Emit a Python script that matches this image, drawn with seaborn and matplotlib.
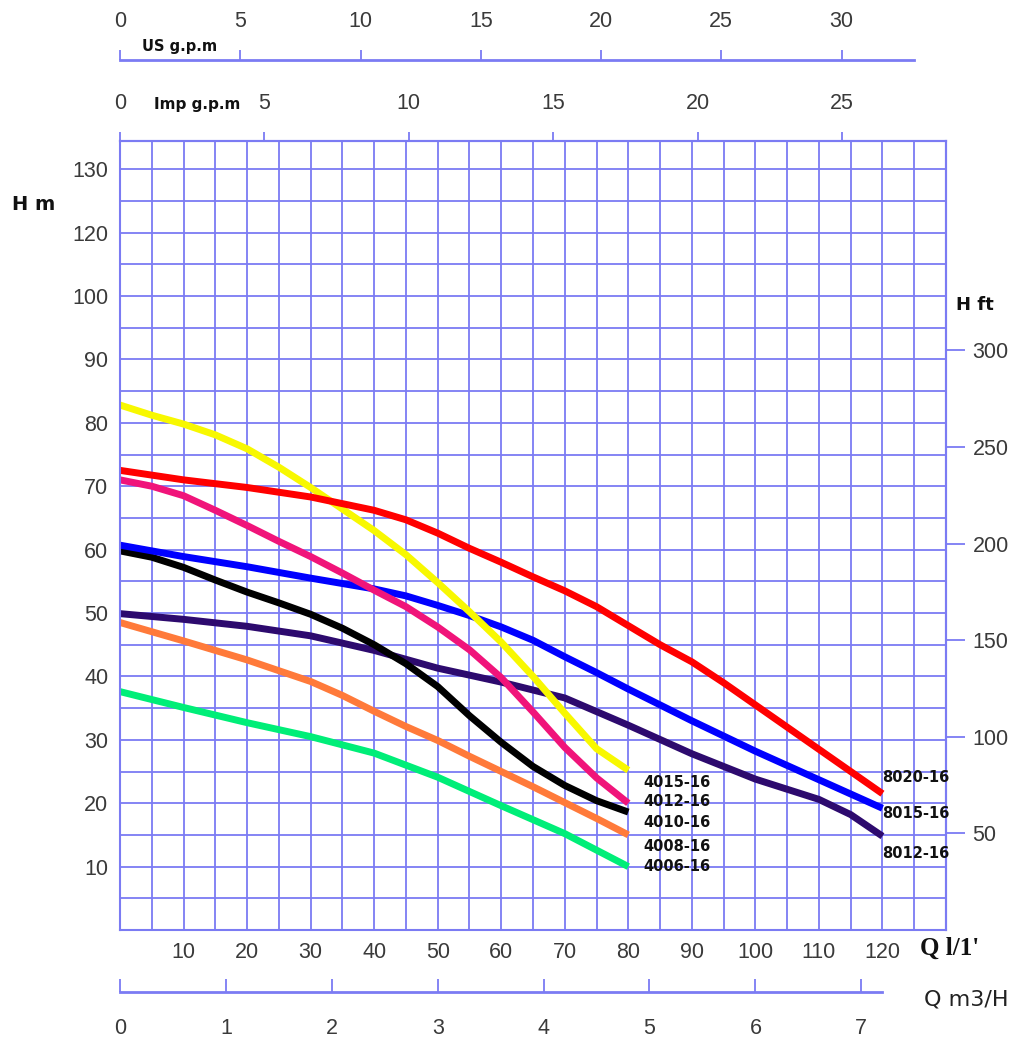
import numpy as np
import pandas as pd
import matplotlib
matplotlib.use("Agg")
import matplotlib.pyplot as plt
import seaborn as sns
from matplotlib.ticker import FixedLocator, FixedFormatter, MultipleLocator

sns.set_theme(style="white")
plt.rcParams["font.family"] = ["Liberation Sans", "DejaVu Sans"]

# ---------------- data (Q in l/min, H in m) ----------------
q_4015 = [0, 5, 10, 15, 20, 25, 30, 35, 40, 45, 50, 55, 60, 65, 70, 75, 80]
h_4015 = [82.8, 81.2, 79.8, 78.1, 75.9, 73.0, 69.8, 66.4, 63.0, 59.2, 54.8, 50.2, 45.4, 40.0, 34.2, 28.6, 25.2]

q_4012 = [0, 5, 10, 15, 20, 25, 30, 35, 40, 45, 50, 55, 60, 65, 70, 75, 80]
h_4012 = [71.0, 70.0, 68.5, 66.2, 63.8, 61.3, 58.9, 56.3, 53.6, 51.0, 47.8, 44.2, 39.8, 34.4, 28.8, 24.0, 20.0]

q_4010 = [0, 5, 10, 15, 20, 25, 30, 35, 40, 45, 50, 55, 60, 65, 70, 75, 80]
h_4010 = [59.8, 58.8, 57.2, 55.2, 53.3, 51.6, 49.8, 47.6, 45.0, 42.0, 38.4, 33.8, 29.6, 25.8, 22.8, 20.4, 18.6]

q_4008 = [0, 10, 20, 30, 35, 40, 45, 50, 55, 60, 65, 70, 75, 80]
h_4008 = [48.5, 45.6, 42.6, 39.2, 37.0, 34.5, 32.1, 29.9, 27.4, 25.0, 22.6, 20.1, 17.6, 15.0]

q_4006 = [0, 10, 20, 30, 40, 50, 60, 70, 80]
h_4006 = [37.6, 35.1, 32.7, 30.5, 27.9, 24.1, 19.6, 15.2, 10.0]

q_8020 = [0, 10, 20, 30, 40, 45, 50, 55, 60, 65, 70, 75, 80, 85, 90, 95, 100, 105, 110, 115, 120]
h_8020 = [72.5, 71.0, 69.8, 68.3, 66.2, 64.7, 62.6, 60.2, 58.0, 55.7, 53.5, 51.0, 48.0, 45.0, 42.3, 39.0, 35.5, 32.0, 28.5, 25.0, 21.5]

q_8015 = [0, 10, 20, 30, 40, 45, 50, 55, 60, 65, 70, 75, 80, 90, 100, 110, 120]
h_8015 = [60.7, 58.9, 57.3, 55.5, 53.8, 52.7, 51.2, 49.6, 47.8, 45.7, 43.1, 40.6, 38.0, 33.0, 28.2, 23.7, 19.2]

q_8012 = [0, 10, 20, 30, 40, 50, 60, 70, 80, 90, 100, 110, 115, 120]
h_8012 = [49.9, 49.0, 47.9, 46.4, 44.1, 41.3, 39.1, 36.6, 32.3, 27.8, 23.8, 20.6, 18.2, 14.8]

models = ["4006-16", "4008-16", "8012-16", "4010-16", "8015-16", "4012-16", "4015-16", "8020-16"]
series = {
    "4015-16": (q_4015, h_4015), "4012-16": (q_4012, h_4012), "4010-16": (q_4010, h_4010),
    "4008-16": (q_4008, h_4008), "4006-16": (q_4006, h_4006), "8020-16": (q_8020, h_8020),
    "8015-16": (q_8015, h_8015), "8012-16": (q_8012, h_8012),
}
colors = {
    "4015-16": "#F8F800", "4012-16": "#F0147A", "4010-16": "#000000", "4008-16": "#FF7A3A",
    "4006-16": "#00EE78", "8020-16": "#FF0000", "8015-16": "#0000FF", "8012-16": "#2D0A6E",
}

x_ticks = [10, 20, 30, 40, 50, 60, 70, 80, 90, 100, 110, 120]
y_ticks = [10, 20, 30, 40, 50, 60, 70, 80, 90, 100, 110, 120]
y_labels = ["10", "20", "30", "40", "50", "60", "70", "80", "90", "100", "120", "130"]
us_ticks = [0, 5, 10, 15, 20, 25, 30]
imp_ticks = [0, 5, 10, 15, 20, 25]
m3h_ticks = [0, 1, 2, 3, 4, 5, 6, 7]
ft_ticks = [50, 100, 150, 200, 250, 300]

df = pd.concat(
    [pd.DataFrame({"Q": series[m][0], "H": series[m][1], "model": m}) for m in models],
    ignore_index=True,
)

# ---------------- figure ----------------
W, H = 1027, 1040
GRID = "#7b7bf3"
TXT = "#3a3a3a"
fig = plt.figure(figsize=(W / 100, H / 100), dpi=100)
ax = fig.add_axes([120 / W, 110 / H, 826 / W, 789 / H])
ax.set_xlim(0, 130)
ax.set_ylim(0, 124.45)

ax.xaxis.set_major_locator(FixedLocator(x_ticks))
ax.xaxis.set_minor_locator(MultipleLocator(5))
ax.yaxis.set_major_locator(FixedLocator(y_ticks))
ax.yaxis.set_major_formatter(FixedFormatter(y_labels))
ax.yaxis.set_minor_locator(MultipleLocator(5))
ax.grid(which="both", color=GRID, lw=1.3)
ax.set_axisbelow(True)
ax.tick_params(which="both", length=0)
ax.tick_params(axis="x", pad=9, labelsize=15.5, labelcolor=TXT)
ax.tick_params(axis="y", pad=8.5, labelsize=15.5, labelcolor=TXT)
for s in ax.spines.values():
    s.set_color(GRID)
    s.set_linewidth(1.5)

sns.lineplot(data=df, x="Q", y="H", hue="model", hue_order=models, palette=colors,
             lw=5, legend=False, ax=ax, sort=False, estimator=None,
             solid_capstyle="butt", solid_joinstyle="round")
ax.set_xlabel("")
ax.set_ylabel("")

# curve labels
lab_kw = dict(fontsize=10.5, fontweight="bold", family="DejaVu Sans", color="#111111",
              va="center", ha="left")
for name, (lx, ly) in {"4015-16": (82.3, 23.2), "4012-16": (82.3, 20.2), "4010-16": (82.3, 16.9),
                       "4008-16": (82.3, 13.1), "4006-16": (82.3, 10.0), "8020-16": (119.9, 24.1),
                       "8015-16": (119.9, 18.3), "8012-16": (119.9, 12.0)}.items():
    ax.text(lx, ly, name, **lab_kw)

# Imp g.p.m axis (top spine)
imp = ax.secondary_xaxis("top", functions=(lambda q: q / 4.54609, lambda g: g * 4.54609))
imp.set_xticks(imp_ticks)
imp.tick_params(direction="out", length=6.5, width=1.3, color=GRID, pad=13,
                labelsize=15.5, labelcolor=TXT)
imp.spines["top"].set_color(GRID)
imp.spines["top"].set_linewidth(1.5)

# US g.p.m axis
us = ax.secondary_xaxis(1 + 81 / 789, functions=(lambda q: q / 3.78541, lambda g: g * 3.78541))
us.set_xticks(us_ticks)
us.tick_params(direction="out", length=7.2, width=1.3, color=GRID, pad=13,
               labelsize=15.5, labelcolor=TXT)
us.spines["top"].set_color(GRID)
us.spines["top"].set_linewidth(2)
us.spines["top"].set_bounds(0, 33)

# m3/h axis
mh = ax.secondary_xaxis(-62 / 789, functions=(lambda q: q * 0.06, lambda m: m / 0.06))
mh.set_xticks(m3h_ticks)
mh.tick_params(direction="in", length=9.4, width=1.3, color=GRID, pad=19,
               labelsize=15.5, labelcolor=TXT)
mh.spines["bottom"].set_color(GRID)
mh.spines["bottom"].set_linewidth(2)
mh.spines["bottom"].set_bounds(0, 7.2)

# H ft axis
ft = ax.secondary_yaxis("right", functions=(lambda m: m / 0.3048, lambda f: f * 0.3048))
ft.set_yticks(ft_ticks)
ft.tick_params(direction="out", length=14, width=1.3, color=GRID, pad=5,
               labelsize=15.5, labelcolor=TXT)
ft.spines["right"].set_color(GRID)
ft.spines["right"].set_linewidth(1.5)

# axis titles
fig.text(34 / W, 1 - 205 / H, "H m", fontsize=14, fontweight="bold", family="DejaVu Sans",
         ha="center", va="center", color="#111111")
fig.text(975 / W, 1 - 305 / H, "H ft", fontsize=13, fontweight="bold", family="DejaVu Sans",
         ha="center", va="center", color="#111111")
fig.text(180 / W, 1 - 46 / H, "US g.p.m", fontsize=10.5, fontweight="bold", family="DejaVu Sans",
         ha="center", va="center", color="#111111")
fig.text(197 / W, 1 - 105 / H, "Imp g.p.m", fontsize=11, fontweight="bold", family="DejaVu Sans",
         ha="center", va="center", color="#111111")
fig.text(950 / W, 1 - 948 / H, "Q l/1'", fontsize=18, fontweight="bold", family="Liberation Serif",
         ha="center", va="center", color="#111111")
fig.text(966 / W, 1 - 1000 / H, "Q m3/H", fontsize=16, family="DejaVu Sans",
         ha="center", va="center", color="#222222")

fig.savefig("out.png", dpi=100, facecolor="white")
